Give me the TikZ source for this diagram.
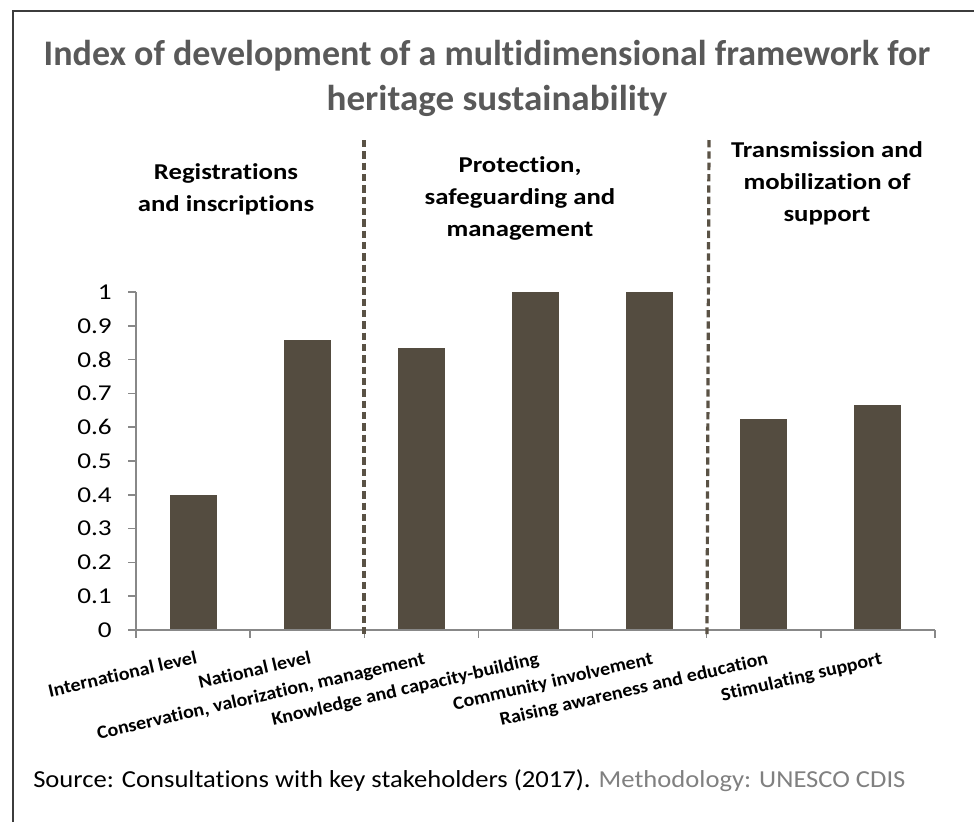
\documentclass[tikz,border=0pt]{standalone}
\usepackage{fontspec}
\setmainfont[Ligatures=NoCommon]{Carlito}
\newfontfamily\titlefont[Ligatures=NoCommon]{Carlito}
\newfontfamily\titlefontw[FakeStretch=1.03,Ligatures=NoCommon]{Carlito}
\newfontfamily\groupfont[FakeStretch=1.18,Ligatures=NoCommon]{Carlito}
\newfontfamily\yfont[FakeStretch=1.2,Ligatures=NoCommon]{Carlito}
\newfontfamily\xfont[FakeStretch=1.07,Ligatures=NoCommon]{Carlito}
\newfontfamily\srcfont[FakeStretch=1.09,Ligatures=NoCommon]{Carlito}
\definecolor{barc}{HTML}{544C40}
\definecolor{titlec}{HTML}{595959}
\definecolor{axisc}{HTML}{888888}
\definecolor{methc}{HTML}{808080}
\definecolor{framec}{HTML}{3C3C3C}
\definecolor{divc}{HTML}{5A5245}
\tikzset{
  barbox/.style={fill=barc},
  divider/.style={draw=divc,line width=2.4pt,dash pattern=on 5.5pt off 3pt},
  ylab/.style={anchor=east,inner sep=0pt,font=\yfont\fontsize{17}{20}\selectfont},
  xlab/.style={anchor=north east,inner sep=0pt,rotate=13,font=\xfont\bfseries\fontsize{14}{16}\selectfont},
  grouplab/.style={align=center,inner sep=0pt,font=\groupfont\bfseries\fontsize{17}{24}\selectfont},
  titlelab/.style={anchor=base,inner sep=0pt,text=titlec,font=\titlefont\bfseries\fontsize{27}{32}\selectfont},
  titlelabw/.style={titlelab,font=\titlefontw\bfseries\fontsize{27}{32}\selectfont},
  axisline/.style={draw=axisc,line width=1.1pt}
}
\begin{document}
\begin{tikzpicture}[x=0.75pt,y=-0.75pt]
\useasboundingbox (0,0) rectangle (974,822);
% frame
\draw[framec,line width=1.1pt] (13,822) -- (13,11) -- (974,11);
% title
\node[titlelab] (title1) at (487,65) {Index of development of a multidimensional framework for};
\node[titlelabw] (title2) at (497,110) {heritage sustainability};
% group labels
\node[grouplab] (g1) at (226,189) {Registrations\\and inscriptions};
\node[grouplab] (g2) at (520,198) {Protection,\\safeguarding and\\management};
\node[grouplab] (g3) at (827,183) {Transmission and\\mobilization of\\support};
% bars
\foreach \i/\v in {1/0.4,2/0.857,3/0.833,4/1,5/1,6/0.625,7/0.667}{
  \pgfmathsetmacro{\cx}{136+114.143*(\i-0.5)}
  \pgfmathsetmacro{\ty}{630-338*\v}
  \fill[barbox] (\cx-23.5,630) rectangle (\cx+23.5,\ty);
}
% axes
\coordinate (o) at (136,630);
\coordinate (ytop) at (136,292);
\coordinate (xend) at (935,630);
\draw[axisline] (ytop) -- (o) -- (xend);
\foreach \k in {0,...,10}{
  \pgfmathsetmacro{\yy}{630-33.8*\k}
  \draw[axisline] (128,\yy) -- (136,\yy);
}
\foreach \k in {0,...,7}{
  \pgfmathsetmacro{\xx}{136+114.143*\k}
  \draw[axisline] (\xx,630) -- (\xx,638);
}
% y labels
\node[ylab] (y0) at (112,630) {0};
\node[ylab] (y1) at (112,596.2) {0.1};
\node[ylab] (y2) at (112,562.4) {0.2};
\node[ylab] (y3) at (112,528.6) {0.3};
\node[ylab] (y4) at (112,494.8) {0.4};
\node[ylab] (y5) at (112,461) {0.5};
\node[ylab] (y6) at (112,427.2) {0.6};
\node[ylab] (y7) at (112,393.4) {0.7};
\node[ylab] (y8) at (112,359.6) {0.8};
\node[ylab] (y9) at (112,325.8) {0.9};
\node[ylab] (y10) at (112,292) {1};
% x labels
\node[xlab] (x1) at (195,650) {International level};
\node[xlab] (x2) at (309,650) {National level};
\node[xlab] (x3) at (423,651) {Conservation, valorization, management};
\node[xlab] (x4) at (537,651) {Knowledge and capacity-building};
\node[xlab] (x5) at (651,651) {Community involvement};
\node[xlab] (x6) at (766,651) {Raising awareness and education};
\node[xlab] (x7) at (880,651) {Stimulating support};
% dividers
\coordinate (d1t) at (364,140);
\coordinate (d1b) at (364,634);
\coordinate (d2t) at (709,140);
\coordinate (d2b) at (707,634);
\draw[divider] (d1t) -- (d1b);
\draw[divider] (d2t) -- (d2b);
% source
\node[anchor=base west,inner sep=0pt,font=\srcfont\fontsize{18.3}{22}\selectfont] (src) at (33,787) {Source: Consultations with key stakeholders (2017). \textcolor{methc}{Methodology: UNESCO CDIS}};
\end{tikzpicture}
\end{document}
